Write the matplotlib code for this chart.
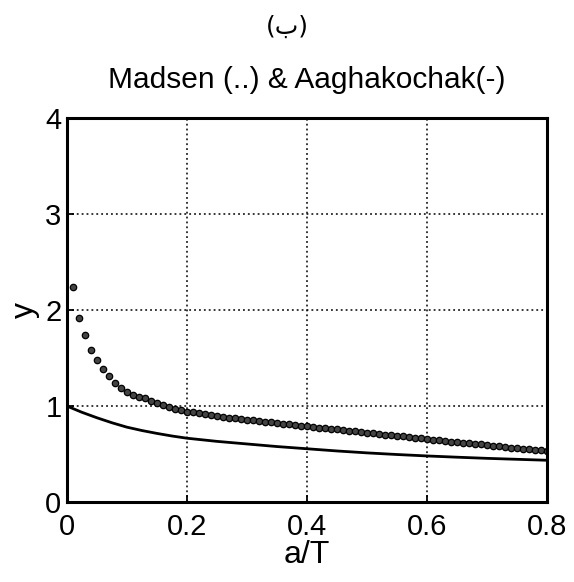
import numpy as np
import matplotlib
matplotlib.use('Agg')
import matplotlib.pyplot as plt

# Madsen (dots), a/T = 0.01 .. 0.80
madsen_x = [round(0.01 * i, 2) for i in range(1, 81)]
madsen_y = [2.24, 1.92, 1.74, 1.59, 1.48, 1.39, 1.31, 1.24, 1.19, 1.15,
            1.12, 1.10, 1.08, 1.05, 1.03, 1.01, 0.99, 0.97, 0.96, 0.94,
            0.935, 0.925, 0.915, 0.91, 0.90, 0.89, 0.88, 0.875, 0.865, 0.86,
            0.85, 0.845, 0.835, 0.83, 0.82, 0.815, 0.81, 0.80, 0.795, 0.79,
            0.783, 0.776, 0.77, 0.763, 0.756, 0.75, 0.743, 0.736, 0.73, 0.723,
            0.716, 0.71, 0.703, 0.696, 0.69, 0.683, 0.676, 0.67, 0.663, 0.656,
            0.65, 0.644, 0.637, 0.63, 0.624, 0.618, 0.612, 0.605, 0.60, 0.593,
            0.587, 0.58, 0.574, 0.568, 0.562, 0.555, 0.55, 0.543, 0.537, 0.53]

# Aaghakochak (solid)
aagha_x = [0.0, 0.025, 0.05, 0.075, 0.1, 0.125, 0.15, 0.175, 0.2, 0.25, 0.3,
           0.35, 0.4, 0.45, 0.5, 0.55, 0.6, 0.65, 0.7, 0.75, 0.8]
aagha_y = [1.0, 0.935, 0.878, 0.826, 0.78, 0.745, 0.715, 0.688, 0.665, 0.632, 0.605,
           0.578, 0.555, 0.532, 0.512, 0.495, 0.48, 0.467, 0.455, 0.445, 0.435]

xticks = [0, 0.2, 0.4, 0.6, 0.8]
xticklabels = ['0', '0.2', '0.4', '0.6', '0.8']
yticks = [0, 1, 2, 3, 4]

plt.rcParams['font.family'] = ['Liberation Sans', 'DejaVu Sans']

fig = plt.figure(figsize=(5.74, 5.82), dpi=100)
ax = fig.add_axes([0.1167, 0.1375, 0.8363, 0.659])

ax.plot(aagha_x, aagha_y, color='black', lw=2.0)
ax.plot(madsen_x, madsen_y, linestyle='none', marker='o', ms=4.6,
        mfc='#444444', mec='black', mew=0.9)

ax.set_xlim(0, 0.8)
ax.set_ylim(0, 4)
ax.set_xticks(xticks)
ax.set_xticklabels(xticklabels)
ax.set_yticks(yticks)
ax.grid(True, color='black', linestyle=(0, (1.2, 2.0)), lw=1.1)
ax.tick_params(direction='in', length=5, width=1.3, labelsize=21,
               top=False, right=False)
ax.tick_params(axis='x', pad=8)
ax.tick_params(axis='y', pad=4)
for sp in ax.spines.values():
    sp.set_linewidth(2.2)

ax.set_xlabel('a/T', fontsize=23, labelpad=-1)
ax.set_ylabel('y', fontsize=23, labelpad=4)
ax.set_title('Madsen (..) & Aaghakochak(-)', fontsize=21.5, pad=22)

fig.text(0.5, 0.954, '(ب)', ha='center', va='center', fontsize=18,
         family=['DejaVu Sans'])

fig.savefig('out.png', dpi=100)
